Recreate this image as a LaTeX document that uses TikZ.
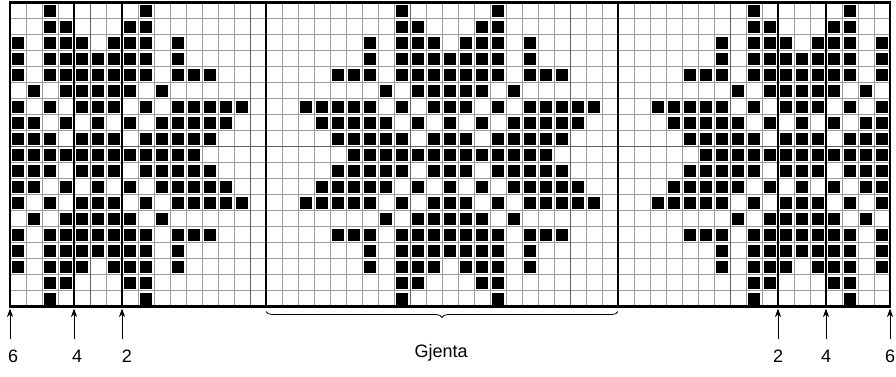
\documentclass[tikz,border=0pt]{standalone}
\usepackage{fontspec}
\setmainfont{Liberation Sans}
\usetikzlibrary{arrows.meta,decorations.pathreplacing}

\begin{document}
\begin{tikzpicture}[
    x=16pt, y=-16pt,
    >={Stealth[length=3mm, width=2.2mm]},
    font=\fontsize{18}{21}\selectfont,
    gridln/.style={draw=black!38, line width=0.7pt},
    tenln/.style={draw=black!62, line width=1pt},
    sizeln/.style={draw=black, line width=2.6pt},
    frame/.style={draw=black, line width=2.6pt},
    stitch/.style={fill=black},
    sizelbl/.style={inner sep=0pt, anchor=center},
    pointer/.style={->, line width=1pt},
    repeatbrace/.style={decorate, decoration={brace, mirror, amplitude=6pt},
                        line width=0.8pt},
  ]
  \useasboundingbox (-0.625,-0.17) rectangle (55.375,23.39);

  % thin grid
  \foreach \c in {1,...,54}
    \draw[gridln] (\c,0) -- (\c,19);
  \foreach \r in {1,...,18}
    \draw[gridln] (0,\r) -- (55,\r);

  % every tenth line, counted from the lower right
  \foreach \c in {5,15,25,35,45}
    \draw[tenln] (\c,0) -- (\c,19);
  \draw[tenln] (0,9) -- (55,9);

  % stitches: upper left quarter, mirrored both ways
  \foreach \r/\cols in {
      1/{3,9,25},
      2/{3,4,8,9,25,26},
      3/{1,3,4,5,7,8,9,11,23,25,26,27},
      4/{1,3,4,5,6,7,8,9,11,23,25,26,27,28},
      5/{1,3,4,5,6,7,8,9,11,12,13,21,22,23,25,26,27,28},
      6/{2,4,5,6,7,8,10,24,26,27,28},
      7/{1,3,5,6,7,9,11,12,13,14,15,19,20,21,22,23,25,27,28},
      8/{1,2,4,6,8,10,11,12,13,14,20,21,22,23,24,26,28},
      9/{1,2,3,5,6,7,9,10,11,12,13,21,22,23,24,25,27,28},
      10/{1,2,3,4,5,6,7,8,9,10,11,12,22,23,24,25,26,27,28}}{
    \foreach \c in \cols {
      \foreach \cc/\rr in {\c/\r, 56-\c/\r, \c/20-\r, 56-\c/20-\r}
        \fill[stitch] (\cc-0.87,\rr-0.87) rectangle (\cc-0.13,\rr-0.13);
    }
  }

  % size lines and frame
  \foreach \c in {4,7,16,38,48,51}
    \draw[sizeln] (\c,0) -- (\c,19);
  \draw[frame] (0,0) rectangle (55,19);

  % size pointers
  \coordinate (top6l) at (0,19.12);   \coordinate (bot6l) at (0,21);
  \coordinate (top4l) at (4,19.12);   \coordinate (bot4l) at (4,21);
  \coordinate (top2l) at (7,19.12);   \coordinate (bot2l) at (7,21);
  \coordinate (top2r) at (48,19.12);  \coordinate (bot2r) at (48,21);
  \coordinate (top4r) at (51,19.12);  \coordinate (bot4r) at (51,21);
  \coordinate (top6r) at (55,19.12);  \coordinate (bot6r) at (55,21);

  \draw[pointer] (bot6l) -- (top6l);
  \draw[pointer] (bot4l) -- (top4l);
  \draw[pointer] (bot2l) -- (top2l);
  \draw[pointer] (bot2r) -- (top2r);
  \draw[pointer] (bot4r) -- (top4r);
  \draw[pointer] (bot6r) -- (top6r);

  \node[sizelbl] (lbl6l) at (0.2,22.1) {6};
  \node[sizelbl] (lbl4l) at (4.2,22.1) {4};
  \node[sizelbl] (lbl2l) at (7.3,22.1) {2};
  \node[sizelbl] (lbl2r) at (48,22.1) {2};
  \node[sizelbl] (lbl4r) at (51,22.1) {4};
  \node[sizelbl] (lbl6r) at (55,22.1) {6};

  % repeat
  \coordinate (repl) at (16,19.3);
  \coordinate (repr) at (38,19.3);
  \draw[repeatbrace] (repl) -- (repr);
  \node[sizelbl] (rep) at (26.94,21.9) {Gjenta};

\end{tikzpicture}
\end{document}
